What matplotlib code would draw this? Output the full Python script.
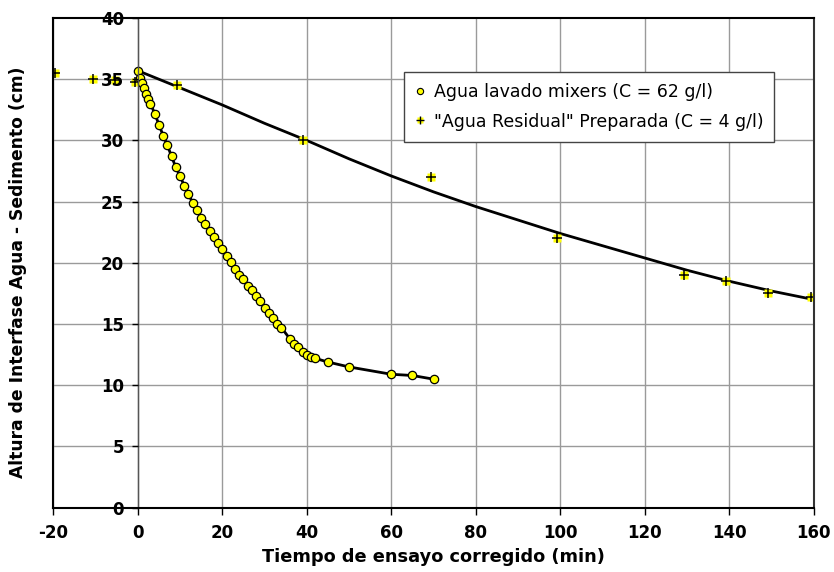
import matplotlib
matplotlib.use('Agg')
import matplotlib.pyplot as plt
from matplotlib.lines import Line2D
from matplotlib.legend_handler import HandlerTuple

# ---- data ----
t_mix = [0, 0.5, 1, 1.5, 2, 2.5, 3, 4, 5, 6, 7, 8, 9, 10, 11, 12, 13, 14, 15, 16,
         17, 18, 19, 20, 21, 22, 23, 24, 25, 26, 27, 28, 29, 30, 31, 32, 33, 34,
         36, 37, 38, 39, 40, 41, 42, 45, 50, 60, 65, 70]
h_mix = [35.7, 35.1, 34.7, 34.3, 33.8, 33.4, 33.0, 32.2, 31.3, 30.4, 29.6, 28.7,
         27.8, 27.1, 26.3, 25.6, 24.9, 24.3, 23.7, 23.2, 22.6, 22.1, 21.6, 21.1,
         20.6, 20.1, 19.5, 19.0, 18.7, 18.1, 17.8, 17.3, 16.9, 16.3, 15.9, 15.5,
         15.0, 14.7, 13.8, 13.4, 13.1, 12.7, 12.5, 12.3, 12.2, 11.9, 11.5, 10.9,
         10.8, 10.5]

t_res = [-19.7, -10.7, -5.5, -0.6, 9.3, 39.2, 69.3, 99.3, 129.2, 139.2, 149.2, 159.3]
h_res = [35.5, 35.0, 34.9, 34.8, 34.5, 30.0, 27.0, 22.0, 19.0, 18.5, 17.5, 17.2]

trend_t = [0, 10, 20, 30, 40, 50, 60, 70, 80, 90, 100, 110, 120, 130, 140, 150, 160]
trend_h = [35.7, 34.3, 32.9, 31.4, 30.0, 28.5, 27.1, 25.8, 24.6, 23.5, 22.4, 21.4,
           20.4, 19.4, 18.5, 17.7, 17.0]

x_ticks = [-20, 0, 20, 40, 60, 80, 100, 120, 140, 160]
y_ticks = [0, 5, 10, 15, 20, 25, 30, 35, 40]

label_mix = 'Agua lavado mixers (C = 62 g/l)'
label_res = '"Agua Residual" Preparada (C = 4 g/l)'
xlabel = 'Tiempo de ensayo corregido (min)'
ylabel = 'Altura de Interfase Agua - Sedimento (cm)'

# ---- figure ----
plt.rcParams['font.family'] = ['DejaVu Sans']
plt.rcParams['axes.unicode_minus'] = False
fig = plt.figure(figsize=(8.34, 5.72), dpi=100)
ax = fig.add_axes([0.0639, 0.1124, 0.9757 - 0.0639, 0.9685 - 0.1124])

ax.set_xlim(-20, 160)
ax.set_ylim(0, 40)
ax.set_xticks(x_ticks)
ax.set_yticks(y_ticks)

grid_c = '#9a9a9a'
ax.grid(axis='x', color=grid_c, lw=1.0, zorder=0.5)
ax.set_axisbelow(True)
for yv in y_ticks[1:-1]:
    ax.axhline(yv, color=grid_c, lw=1.0, zorder=0.6)

# lines
ax.plot(trend_t, trend_h, color='black', lw=2.0, zorder=2, solid_capstyle='round')
ax.plot(t_mix, h_mix, color='black', lw=2.0, zorder=2, solid_capstyle='round')

# markers
ax.plot(t_res, h_res, ls='none', marker='s', ms=5.5, mfc='#ffff00', mec='none', zorder=2.2)
ax.plot(t_res, h_res, ls='none', marker='+', ms=7, mec='black', mew=1.1, zorder=2.3)
ax.plot(t_mix, h_mix, ls='none', marker='o', ms=6, mfc='#ffff00', mec='black', mew=0.9, zorder=2.4)

# spines
ax.spines['left'].set_position(('data', 0))
ax.spines['left'].set_color('#555555')
ax.spines['left'].set_linewidth(1.0)
for s in ['top', 'bottom']:
    ax.spines[s].set_color('black')
    ax.spines[s].set_linewidth(1.5)
ax.spines['right'].set_color('#333333')
ax.spines['right'].set_linewidth(1.5)
ax.add_line(Line2D([0, 0], [0, 1], transform=ax.transAxes, color='black', lw=1.5,
                   clip_on=False, zorder=3))

ax.tick_params(axis='y', direction='out', length=4, width=1.0, pad=6, labelsize=12)
ax.tick_params(axis='x', direction='out', length=5, width=1.0, pad=7, labelsize=12)
for lab in ax.get_xticklabels() + ax.get_yticklabels():
    lab.set_fontweight('bold')
ax.yaxis.set_zorder(3)

ax.set_xlabel(xlabel, fontsize=12.8, fontweight='bold')
ax.xaxis.set_label_coords(0.5, -0.082)
ax.set_ylabel(ylabel, fontsize=12.3, fontweight='bold')
ax.yaxis.set_label_coords(-0.035, 0.48)

# legend
h1 = Line2D([], [], ls='none', marker='o', ms=4.5, mfc='#ffff00', mec='black', mew=0.8)
h2a = Line2D([], [], ls='none', marker='s', ms=4, mfc='#ffff00', mec='none')
h2b = Line2D([], [], ls='none', marker='+', ms=5.5, mec='black', mew=1.0)
leg = ax.legend([h1, (h2a, h2b)], [label_mix, label_res],
                handler_map={tuple: HandlerTuple(ndivide=1, pad=0)},
                loc='upper left', bbox_to_anchor=(404 / 834, 1 - 72 / 572),
                bbox_transform=fig.transFigure, borderaxespad=0,
                fancybox=False, frameon=True, framealpha=1, edgecolor='#444444',
                fontsize=12.5, handlelength=0.6, handletextpad=0.45,
                borderpad=0.65, labelspacing=0.65)
leg.get_frame().set_linewidth(1.0)
leg.set_zorder(5)

fig.savefig('out.png', dpi=100)
